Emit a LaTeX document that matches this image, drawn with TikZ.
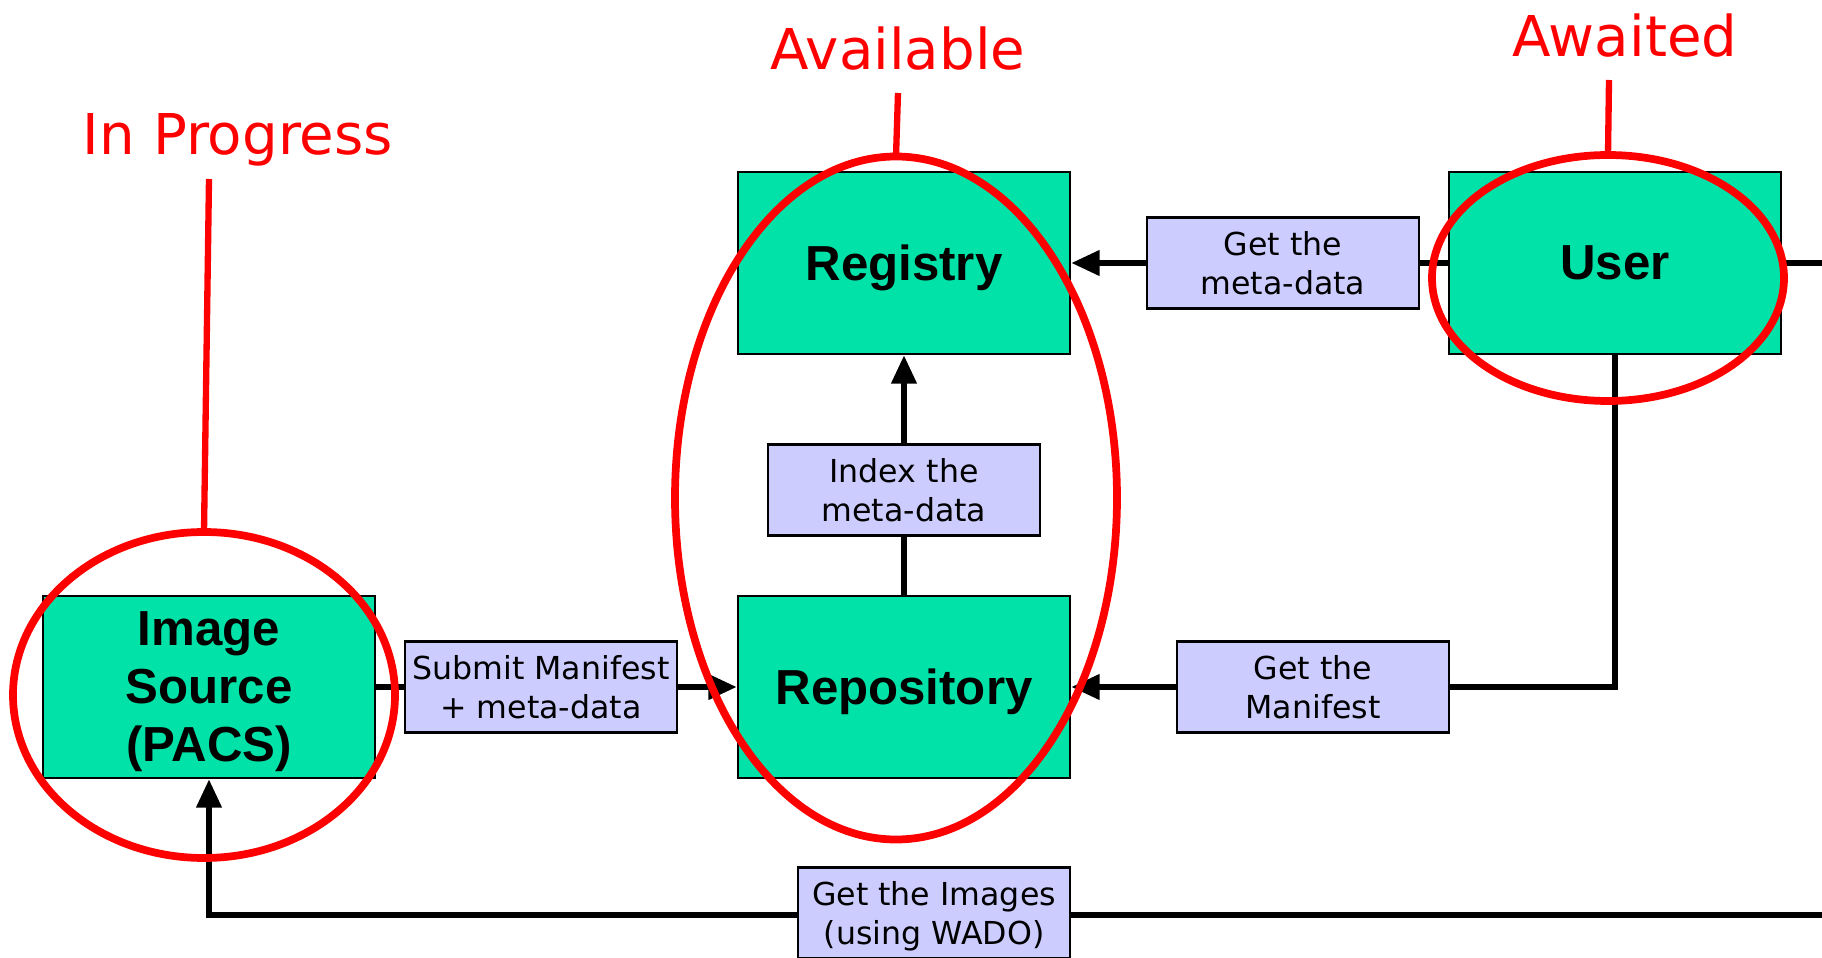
\documentclass[tikz,border=0pt]{standalone}
\usepackage{fontspec}
\setmainfont{Liberation Sans}
\newfontfamily\labelfont{DejaVu Sans}
\usetikzlibrary{arrows.meta,shapes.geometric}
\definecolor{boxgreen}{RGB}{0,226,168}
\definecolor{boxlav}{RGB}{204,204,255}
\definecolor{markred}{RGB}{255,0,0}
\tikzset{
    actor/.style={draw=black, line width=0.8pt, fill=boxgreen, minimum width=33.2mm, minimum height=18.2mm, inner sep=0pt, text depth=0pt, align=center, font=\fontsize{14}{16.5}\selectfont\bfseries},
    msg/.style={draw=black, line width=0.8pt, fill=boxlav, minimum width=27.2mm, minimum height=9.1mm, inner sep=0pt, text depth=0pt, align=center, font=\labelfont\fontsize{9}{10.9}\selectfont},
    link/.style={line width=1.5pt, -{Triangle[length=8pt,width=7pt]}},
    wire/.style={line width=1.5pt},
    ring/.style={draw=markred, line width=2.2pt, ellipse, inner sep=0pt, outer sep=0pt},
    pointer/.style={draw=markred, line width=1.8pt},
    status/.style={text=markred, anchor=base, inner sep=0pt, font=\labelfont\fontsize{16}{19}\selectfont}
}

\begin{document}
\begin{tikzpicture}[x=0.1mm, y=-0.1mm]
                \useasboundingbox (0,0) rectangle (1822,958);
                \node[actor] (source) at (209,687) {Image\\Source\\(PACS)};
                \node[actor] (registry) at (904,263) {Registry};
                \node[actor] (repository) at (904,687) {Repository};
                \node[actor] (user) at (1615,263) {User};
                \coordinate (outtop) at (1822,263);
                \coordinate (outbottom) at (1822,915);
                \draw[link] (user.west) -- (registry.east);
                \draw[wire] (user.east) -- (outtop);
                \draw[link] (outbottom) -| (source.south);
                \draw[link] (user.south) |- (repository.east);
                \draw[link] (source.east) -- (repository.west);
                \draw[link] (repository.north) -- (registry.south);
                \node[msg] (getmeta) at (1283,263) {Get the\\meta-data};
                \node[msg] (index) at (904,490) {Index the\\meta-data};
                \node[msg] (submit) at (541,687) {Submit Manifest\\+ meta-data};
                \node[msg] (getmanifest) at (1313,687) {Get the\\Manifest};
                \node[msg] (getimages) at (934,913) {Get the Images\\(using WADO)};
                \node[ring, minimum width=38.2mm, minimum height=32.6mm] (sourcering) at (204,695) {};
                \node[ring, minimum width=44.2mm, minimum height=68.3mm] (availring) at (896,498) {};
                \node[ring, minimum width=35.2mm, minimum height=24.6mm] (userring) at (1608,278) {};
                \node[status] (progress) at (238,155) {In Progress};
                \node[status] (available) at (898,70) {Available};
                \node[status] (awaited) at (1625,57) {Awaited};
                \draw[pointer] (209,179) -- (sourcering.north);
                \draw[pointer] (898,93) -- (availring.north);
                \draw[pointer] (1609,80) -- (userring.north);
            \end{tikzpicture}
\end{document}
